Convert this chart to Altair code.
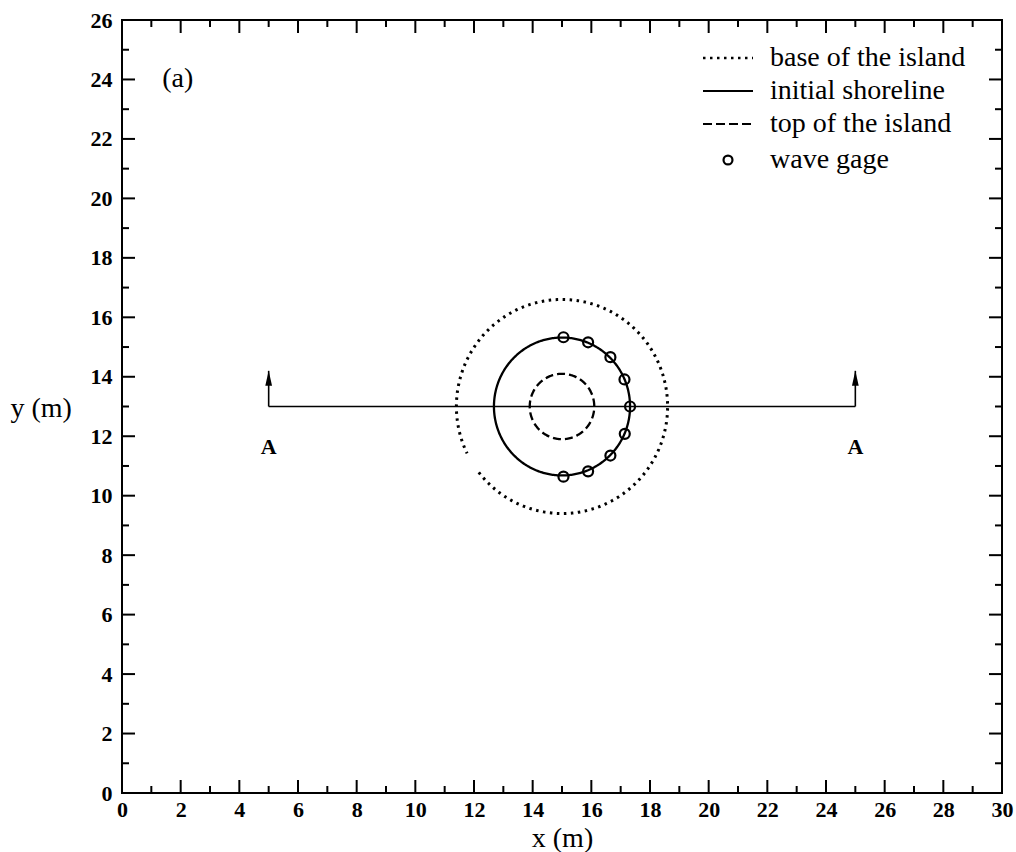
import altair as alt
import numpy as np
import pandas as pd

# ---- data ----
center_x = 15.0
center_y = 13.0
r_base = 3.6      # base of the island
r_shore = 2.32    # initial shoreline
r_top = 1.1       # top of the island
base_gap_deg = [206, 218]   # missing dots on the base circle (lower left)

gage_x = [15.05, 15.89, 16.65, 17.13, 17.32, 17.14, 16.65, 15.89, 15.05]
gage_y = [15.33, 15.16, 14.66, 13.91, 13.00, 12.08, 11.35, 10.82, 10.64]

section_x = [5, 25]
section_y = 13
arrow_tip = 14.2
section_labels = ["A", "A"]
section_label_y = 11.65

panel_label = "(a)"
panel_label_x = 1.9
panel_label_y = 24.0

x_major = list(range(0, 31, 2))
x_minor = list(range(1, 30, 2))
y_major = list(range(0, 27, 2))
y_minor = list(range(1, 26, 2))

legend_labels = ["base of the island", "initial shoreline", "top of the island", "wave gage"]

# ---- layout ----
W, H = 880, 773
FONT = "Liberation Serif"
MAJ, MIN = 13, 7


def circle_df(r, start=0.0, stop=360.0, n=361):
    th = np.deg2rad(np.linspace(start, stop, n))
    return pd.DataFrame({"x": center_x + r * np.cos(th),
                         "y": center_y + r * np.sin(th),
                         "i": np.arange(n)})


xs = alt.Scale(domain=[0, 30], nice=False, zero=False)
ys = alt.Scale(domain=[0, 26], nice=False, zero=False)

x_axis = alt.Axis(values=x_major, title="x (m)", ticks=False, domain=False, grid=False,
                  labelFont=FONT, labelFontWeight="bold", labelFontSize=22, labelColor="black",
                  labelPadding=6, labelFlush=False, labelOverlap=False,
                  titleFont=FONT, titleFontSize=28, titleFontWeight="normal", titleColor="black",
                  titleX=W / 2, titleY=45, titleBaseline="middle", titleAlign="center")
y_axis = alt.Axis(values=y_major, title="y (m)", ticks=False, domain=False, grid=False,
                  labelFont=FONT, labelFontWeight="bold", labelFontSize=22, labelColor="black",
                  labelPadding=10, labelFlush=False, labelOverlap=False,
                  titleFont=FONT, titleFontSize=28, titleFontWeight="normal", titleColor="black",
                  titleAngle=0, titleX=-112, titleY=388, titleAlign="left", titleBaseline="middle")


def X(f):
    return alt.X(f, type="quantitative", scale=xs, axis=x_axis)


def Y(f):
    return alt.Y(f, type="quantitative", scale=ys, axis=y_axis)


layers = []

# base of the island (dotted, with a small gap)
layers.append(alt.Chart(circle_df(r_base, base_gap_deg[1], base_gap_deg[0] + 360, 400)).mark_line(
    color="black", strokeWidth=3, strokeDash=[2.5, 4.5]).encode(x=X("x"), y=Y("y"), order="i:Q"))
# initial shoreline
layers.append(alt.Chart(circle_df(r_shore)).mark_line(color="black", strokeWidth=2.3).encode(
    x=X("x"), y=Y("y"), order="i:Q"))
# top of the island
layers.append(alt.Chart(circle_df(r_top)).mark_line(color="black", strokeWidth=2.3, strokeDash=[8, 4]).encode(
    x=X("x"), y=Y("y"), order="i:Q"))

# section line A-A
sec = pd.DataFrame({"x": [section_x[0]], "x2": [section_x[1]], "y": [section_y]})
layers.append(alt.Chart(sec).mark_rule(color="black", strokeWidth=1.5).encode(
    x=X("x"), x2="x2:Q", y=Y("y")))
arr = pd.DataFrame({"x": section_x, "y": [section_y] * 2, "y2": [arrow_tip] * 2,
                    "lab": section_labels, "ly": [section_label_y] * 2})
layers.append(alt.Chart(arr).mark_rule(color="black", strokeWidth=1.6).encode(
    x=X("x"), y=Y("y"), y2="y2:Q"))
layers.append(alt.Chart(arr).mark_point(
    shape="M0,0L0.45,2L-0.45,2Z", filled=True, color="black", opacity=1, size=225).encode(
    x=X("x"), y=Y("y2")))
layers.append(alt.Chart(arr).mark_text(font=FONT, fontWeight="bold", fontSize=22, color="black",
                                       baseline="middle", align="center").encode(
    x=X("x"), y=Y("ly"), text="lab:N"))

# wave gages
g = pd.DataFrame({"x": gage_x, "y": gage_y})
layers.append(alt.Chart(g).mark_point(shape="circle", filled=False, color="black", size=100,
                                      strokeWidth=2.2, opacity=1).encode(x=X("x"), y=Y("y")))

# panel label
pl = pd.DataFrame({"x": [panel_label_x], "y": [panel_label_y], "t": [panel_label]})
layers.append(alt.Chart(pl).mark_text(font=FONT, fontSize=28, color="black", align="center",
                                      baseline="middle").encode(x=X("x"), y=Y("y"), text="t:N"))

# inward ticks on all four sides
for vals, ln in ((x_major, MAJ), (x_minor, MIN)):
    df = pd.DataFrame({"t": vals})
    layers.append(alt.Chart(df).mark_rule(color="black", strokeWidth=2).encode(
        x=X("t"), y=alt.value(H), y2=alt.value(H - ln)))
    layers.append(alt.Chart(df).mark_rule(color="black", strokeWidth=2).encode(
        x=X("t"), y=alt.value(0), y2=alt.value(ln)))
for vals, ln in ((y_major, MAJ), (y_minor, MIN)):
    df = pd.DataFrame({"t": vals})
    layers.append(alt.Chart(df).mark_rule(color="black", strokeWidth=2).encode(
        y=Y("t"), x=alt.value(0), x2=alt.value(ln)))
    layers.append(alt.Chart(df).mark_rule(color="black", strokeWidth=2).encode(
        y=Y("t"), x=alt.value(W), x2=alt.value(W - ln)))

# legend (drawn inside the plot, top right)
one = pd.DataFrame({"a": [0]})
leg_x0, leg_x1, leg_tx = 581, 631, 648
leg_rows = [38, 71, 104, 140]
layers.append(alt.Chart(one).mark_rule(color="black", strokeWidth=2.4, strokeDash=[2.5, 4.5]).encode(
    x=alt.value(leg_x0), x2=alt.value(leg_x1), y=alt.value(leg_rows[0])))
layers.append(alt.Chart(one).mark_rule(color="black", strokeWidth=2.2).encode(
    x=alt.value(leg_x0), x2=alt.value(leg_x1), y=alt.value(leg_rows[1])))
layers.append(alt.Chart(one).mark_rule(color="black", strokeWidth=2.2, strokeDash=[9, 4]).encode(
    x=alt.value(leg_x0), x2=alt.value(leg_x1), y=alt.value(leg_rows[2])))
layers.append(alt.Chart(one).mark_point(shape="circle", filled=False, color="black", size=80,
                                        strokeWidth=2.2, opacity=1).encode(
    x=alt.value((leg_x0 + leg_x1) / 2), y=alt.value(leg_rows[3])))
for lab, ry in zip(legend_labels, leg_rows):
    layers.append(alt.Chart(one).mark_text(font=FONT, fontSize=28, color="black", align="left",
                                           baseline="middle").encode(
        x=alt.value(leg_tx), y=alt.value(ry), text=alt.value(lab)))

chart = alt.layer(*layers).properties(
    width=W, height=H,
    autosize=alt.AutoSizeParams(type="none"),
    padding={"left": 122, "top": 20, "right": 14, "bottom": 59},
    background="white",
).configure_view(stroke="black", strokeWidth=2)

chart.save("out.html", embed_options={"renderer": "svg", "actions": False})
